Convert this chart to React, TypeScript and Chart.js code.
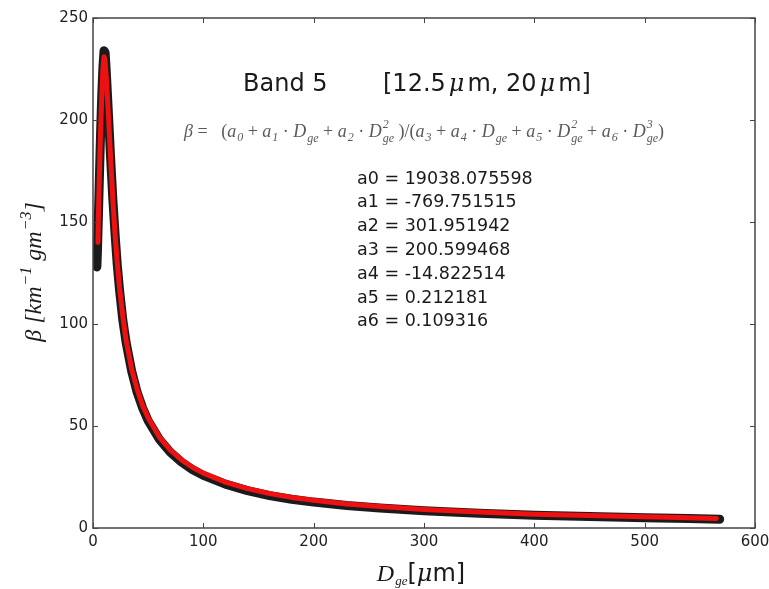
import { useEffect, useRef } from "react";
import { Chart, registerables } from "chart.js";
Chart.register(...registerables);

// fitted curve (red)
const fitD = [4.5, 5, 6, 7, 8, 9, 10, 11, 12, 14, 16, 18, 20, 22, 24, 27, 30, 35, 40, 45, 50, 60, 70, 80, 90, 100, 120, 140, 160, 180, 200, 230, 260, 300, 350, 400, 450, 500, 540, 565];
const fitBeta = [140, 156, 177, 197, 212, 225, 231, 229, 221, 202, 181, 161, 144, 130, 118, 104, 92, 78, 68, 60, 54, 44.7, 38.3, 33.5, 29.8, 26.9, 22.5, 19.3, 16.9, 15.0, 13.6, 11.8, 10.5, 9.1, 7.8, 6.8, 6.1, 5.5, 5.0, 4.7];
// measured points (black)
const obsD = [3.5, 4, 5, 6, 7, 8, 9, 10, 11, 12, 14, 16, 18, 20, 22, 24, 27, 30, 35, 40, 45, 50, 60, 70, 80, 90, 100, 120, 140, 160, 180, 200, 230, 260, 300, 350, 400, 450, 500, 540, 568];
const obsBeta = [128, 135, 155, 176, 196, 213, 226, 234, 233, 224, 203, 181, 161, 144, 129, 117, 102, 91, 77, 66.5, 58.8, 52.6, 43.6, 37.2, 32.4, 28.7, 25.8, 21.5, 18.3, 15.9, 14.1, 12.7, 11.0, 9.8, 8.4, 7.2, 6.3, 5.6, 5.0, 4.6, 4.3];

const xTicks = [0, 100, 200, 300, 400, 500, 600];
const yTicks = [0, 50, 100, 150, 200, 250];
const bandTitle = "Band 5";
const coefNames = ["a0", "a1", "a2", "a3", "a4", "a5", "a6"];
const coefValues = ["19038.075598", "-769.751515", "301.951942", "200.599468", "-14.822514", "0.212181", "0.109316"];

type Seg = { t: string; f: string; dy?: number; sup?: string; sub?: string; sf?: string; pad?: number; supDy?: number; subDy?: number };

function segWidth(ctx: CanvasRenderingContext2D, s: Seg) {
  ctx.font = s.f;
  let w = ctx.measureText(s.t).width + 2 * (s.pad || 0);
  if (s.sup !== undefined || s.sub !== undefined) {
    ctx.font = s.sf || s.f;
    const a = s.sup ? ctx.measureText(s.sup).width : 0;
    const b = s.sub ? ctx.measureText(s.sub).width : 0;
    w += Math.max(a, b) + 1;
  }
  return w;
}

function drawSegs(ctx: CanvasRenderingContext2D, segs: Seg[], x: number, y: number, align: "left" | "center") {
  let total = 0;
  for (const s of segs) total += segWidth(ctx, s);
  let cx = align === "center" ? x - total / 2 : x;
  ctx.textAlign = "left";
  ctx.textBaseline = "alphabetic";
  for (const s of segs) {
    ctx.font = s.f;
    const pad = s.pad || 0;
    ctx.fillText(s.t, cx + pad, y + (s.dy || 0));
    let w = ctx.measureText(s.t).width + 2 * pad;
    if (s.sup !== undefined || s.sub !== undefined) {
      ctx.font = s.sf || s.f;
      let m = 0;
      if (s.sup) { ctx.fillText(s.sup, cx + w + 1, y + (s.supDy ?? -8)); m = Math.max(m, ctx.measureText(s.sup).width); }
      if (s.sub) { ctx.fillText(s.sub, cx + w + 1, y + (s.subDy ?? 4)); m = Math.max(m, ctx.measureText(s.sub).width); }
      w += m + 1;
    }
    cx += w;
  }
}

const overlay = {
  id: "overlay",
  afterDraw(chart: any) {
    const ctx: CanvasRenderingContext2D = chart.ctx;
    const a = chart.chartArea;
    const xs = chart.scales.x;
    const ys = chart.scales.y;
    ctx.save();
    // frame
    ctx.strokeStyle = "#444";
    ctx.lineWidth = 1.5;
    ctx.strokeRect(a.left, a.top, a.right - a.left, a.bottom - a.top);
    // inward ticks
    ctx.lineWidth = 1;
    for (const v of xTicks) {
      const p = Math.round(xs.getPixelForValue(v)) + 0.5;
      ctx.beginPath();
      ctx.moveTo(p, a.bottom); ctx.lineTo(p, a.bottom - 5);
      ctx.moveTo(p, a.top); ctx.lineTo(p, a.top + 5);
      ctx.stroke();
    }
    for (const v of yTicks) {
      const p = Math.round(ys.getPixelForValue(v)) + 0.5;
      ctx.beginPath();
      ctx.moveTo(a.left, p); ctx.lineTo(a.left + 5, p);
      ctx.moveTo(a.right, p); ctx.lineTo(a.right - 5, p);
      ctx.stroke();
    }
    ctx.fillStyle = "#1a1a1a";
    // band title
    ctx.font = "24px 'DejaVu Sans'";
    ctx.textAlign = "left";
    ctx.textBaseline = "alphabetic";
    ctx.fillText(bandTitle, 243, 91);
    drawSegs(ctx, [
      { t: "[12.5", f: "24px 'DejaVu Sans'" },
      { t: "\u03bc", f: "italic 24px 'DejaVu Serif'", pad: 3 },
      { t: "m, 20", f: "24px 'DejaVu Sans'" },
      { t: "\u03bc", f: "italic 24px 'DejaVu Serif'", pad: 3 },
      { t: "m]", f: "24px 'DejaVu Sans'" },
    ], 383, 91, "left");
    // formula
    ctx.fillStyle = "#5a5a5a";
    const it = "italic 18px 'Liberation Serif'";
    const rm = "18px 'Liberation Serif'";
    const sm = "italic 12px 'Liberation Serif'";
    const aSub = (n: string): Seg => ({ t: "a", f: it, sub: n, sf: sm });
    const D = (p?: string): Seg => ({ t: "D", f: it, sub: "ge", sup: p, sf: sm, supDy: -9, subDy: 5 });
    drawSegs(ctx, [
      { t: "\u03b2", f: it },
      { t: " =   (", f: rm },
      aSub("0"), { t: " + ", f: rm }, aSub("1"), { t: " \u00b7 ", f: rm }, D(),
      { t: " + ", f: rm }, aSub("2"), { t: " \u00b7 ", f: rm }, D("2"),
      { t: " )/(", f: rm },
      aSub("3"), { t: " + ", f: rm }, aSub("4"), { t: " \u00b7 ", f: rm }, D(),
      { t: " + ", f: rm }, aSub("5"), { t: " \u00b7 ", f: rm }, D("2"),
      { t: " + ", f: rm }, aSub("6"), { t: " \u00b7 ", f: rm }, D("3"),
      { t: ")", f: rm },
    ], 424, 137, "center");
    // coefficients
    ctx.fillStyle = "#1a1a1a";
    ctx.font = "17.5px 'DejaVu Sans'";
    ctx.textAlign = "left";
    ctx.textBaseline = "middle";
    coefNames.forEach((n, i) => {
      ctx.fillText(n + " = " + coefValues[i], 357, 179 + i * 23.8);
    });
    // x axis title
    ctx.fillStyle = "#1a1a1a";
    drawSegs(ctx, [
      { t: "D", f: "italic 24px 'Liberation Serif'", sub: "ge", sf: "italic 13px 'Liberation Serif'" },
      { t: "[", f: "24px 'DejaVu Sans'" },
      { t: "\u03bc", f: "italic 24px 'DejaVu Serif'" },
      { t: "m]", f: "24px 'DejaVu Sans'" },
    ], 421, 581, "center");
    // y axis title
    ctx.save();
    ctx.translate(41, 272);
    ctx.rotate(-Math.PI / 2);
    const yi = "italic 24px 'Liberation Serif'";
    const ys2 = "italic 16px 'Liberation Serif'";
    drawSegs(ctx, [
      { t: "\u03b2", f: yi },
      { t: " [km", f: yi, sup: "\u22121", sf: ys2, supDy: -10 },
      { t: " gm", f: yi, sup: "\u22123", sf: ys2, supDy: -10 },
      { t: "]", f: yi },
    ], 0, 0, "center");
    ctx.restore();
    ctx.restore();
  },
};

export default function App() {
  const ref = useRef<HTMLCanvasElement | null>(null);
  useEffect(() => {
    if (!ref.current) return;
    const chart = new Chart(ref.current, {
      type: "line",
      data: {
        datasets: [
          {
            label: "fit",
            data: fitD.map((d, i) => ({ x: d, y: fitBeta[i] })),
            borderColor: "#ee1111",
            borderWidth: 5,
            pointRadius: 0,
            borderJoinStyle: "round",
            borderCapStyle: "round",
            tension: 0,
            order: 0,
          },
          {
            label: "data",
            data: obsD.map((d, i) => ({ x: d, y: obsBeta[i] })),
            borderColor: "rgba(15,15,15,0.95)",
            borderWidth: 9,
            pointRadius: 0,
            borderJoinStyle: "round",
            borderCapStyle: "round",
            tension: 0,
            order: 1,
          },
        ],
      },
      options: {
        responsive: false,
        animation: false,
        layout: { padding: { top: 18, right: 14, left: 0, bottom: 0 } },
        plugins: { legend: { display: false }, tooltip: { enabled: false } },
        scales: {
          x: {
            type: "linear",
            min: 0,
            max: 600,
            afterFit: (s: any) => { s.height = 61; s.paddingLeft = 0; s.paddingRight = 0; },
            afterBuildTicks: (s: any) => { s.ticks = xTicks.map((v) => ({ value: v })); },
            ticks: { color: "#222", font: { family: "'DejaVu Sans'", size: 15 }, padding: 5 },
            grid: { display: true, drawOnChartArea: false, drawTicks: false },
            border: { display: false },
          },
          y: {
            type: "linear",
            min: 0,
            max: 250,
            afterFit: (s: any) => { s.width = 93; s.paddingTop = 0; s.paddingBottom = 0; },
            afterBuildTicks: (s: any) => { s.ticks = yTicks.map((v) => ({ value: v })); },
            ticks: { color: "#222", font: { family: "'DejaVu Sans'", size: 15 }, padding: 5 },
            grid: { display: true, drawOnChartArea: false, drawTicks: false },
            border: { display: false },
          },
        },
      },
      plugins: [overlay],
    } as any);
    return () => chart.destroy();
  }, []);
  return (
    <div style={{ position: "absolute", left: 0, top: 0, width: 769, height: 589, background: "#fff" }}>
      <canvas ref={ref} width={769} height={589} style={{ display: "block" }} />
    </div>
  );
}
